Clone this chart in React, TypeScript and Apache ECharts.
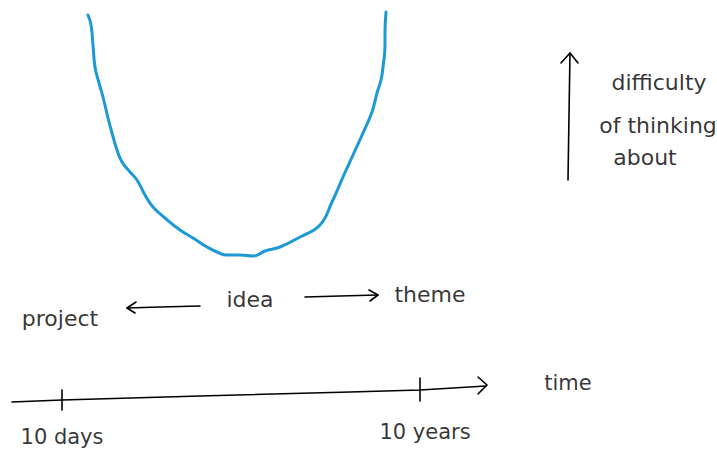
import React, { useEffect, useRef } from "react";
import * as echarts from "echarts";

// Difficulty-of-thinking curve (x: scope position, y: screen-down value)
const curveX = [88, 91, 93, 95, 99, 103, 108, 112, 117, 122, 130, 137, 145, 153, 165, 180, 193, 207, 217, 227, 240, 253, 265, 280, 300, 320, 332, 343, 353, 363, 372, 377, 381, 383, 385, 385, 386];
const curveY = [15, 25, 45, 67, 83, 97, 118, 133, 150, 162, 172, 180, 195, 207, 218, 230, 238, 247, 252, 255, 255, 256, 251, 247, 237, 225, 202, 177, 155, 133, 112, 93, 80, 67, 45, 33, 12];

// Time axis
const timeAxisX = [12, 62, 200, 350, 420, 486];
const timeAxisY = [402, 400, 396, 392, 390, 386];
const timeTickX = [62, 420];
const timeTickY = [400, 390];
const timeTickLabels = ["10 days", "10 years"];

// Scope labels
const scopeLabels = ["project", "idea", "theme"];
const scopeX = [60, 250, 430];
const scopeY = [318, 299, 294];

// Vertical axis legend
const diffLabels = ["difficulty", "of thinking", "about"];
const diffX = [659, 658, 645];
const diffY = [82, 125, 157];

const inkColor = "#000000";
const font = "DejaVu Sans";

function lineSeries(xs: number[], ys: number[], color = inkColor, width = 1.6) {
  return {
    type: "line",
    data: xs.map((x, i) => [x, ys[i]]),
    symbol: "none",
    smooth: false,
    lineStyle: { color, width, cap: "round", join: "round" },
    silent: true,
  };
}

function textSeries(labels: string[], xs: number[], ys: number[], size = 22) {
  return {
    type: "scatter",
    symbolSize: 0,
    data: labels.map((l, i) => ({ name: l, value: [xs[i], ys[i]] })),
    label: {
      show: true,
      position: "inside",
      formatter: "{b}",
      color: inkColor,
      fontSize: size,
      fontFamily: font,
      textBorderWidth: 0,
    },
    silent: true,
  };
}

export default function App() {
  const ref = useRef<HTMLDivElement>(null);
  useEffect(() => {
    if (!ref.current) return;
    const chart = echarts.init(ref.current, null, { renderer: "svg" });
    const series: any[] = [
      { ...lineSeries(curveX, curveY, "#1d9ad6", 3), smooth: 0.45 },
      lineSeries(timeAxisX, timeAxisY),
      // time axis arrow head
      lineSeries([478, 487, 478], [377, 385, 394]),
      // ticks
      lineSeries([timeTickX[0], timeTickX[0]], [timeTickY[0] - 10, timeTickY[0] + 10]),
      lineSeries([timeTickX[1], timeTickX[1]], [timeTickY[1] - 12, timeTickY[1] + 11]),
      // left arrow (idea -> project)
      lineSeries([200, 160, 127], [306, 307, 308]),
      lineSeries([136, 127, 135], [302, 308, 313]),
      // right arrow (idea -> theme)
      lineSeries([305, 340, 378], [297, 296, 295]),
      lineSeries([369, 378, 370], [290, 295, 301]),
      // vertical arrow
      lineSeries([568, 569, 570], [180, 115, 53]),
      lineSeries([561, 570, 578], [63, 53, 63]),
      textSeries(timeTickLabels, [62, 425], [437, 432], 21),
      textSeries(["time"], [568], [383], 21),
      textSeries(scopeLabels, scopeX, scopeY, 22),
      textSeries(diffLabels, diffX, diffY, 22),
    ];
    chart.setOption({
      animation: false,
      backgroundColor: "#ffffff",
      grid: { left: 0, top: 0, right: 0, bottom: 0 },
      xAxis: { type: "value", min: 0, max: 717, show: false },
      yAxis: { type: "value", min: 0, max: 463, inverse: true, show: false },
      series,
    });
    return () => chart.dispose();
  }, []);
  return (
    <div
      ref={ref}
      style={{ position: "fixed", left: 0, top: 0, width: 717, height: 463, background: "#fff" }}
    />
  );
}
